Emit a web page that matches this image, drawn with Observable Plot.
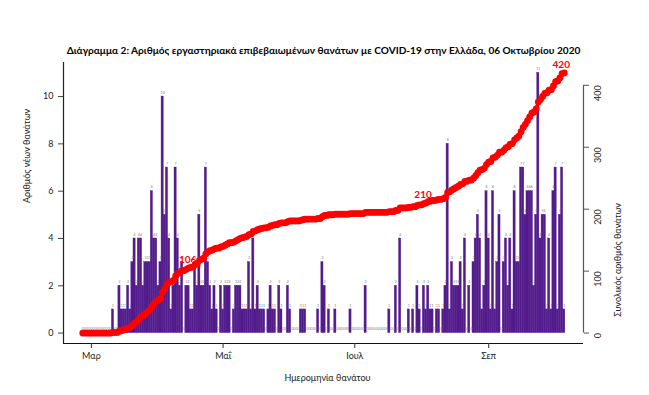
<!DOCTYPE html>
<html><head><meta charset="utf-8">
<script src="https://cdn.jsdelivr.net/npm/d3@7"></script>
<script src="https://cdn.jsdelivr.net/npm/@observablehq/plot@0.6"></script>
<style>body{margin:0;background:#fff;} svg{display:block;}</style>
</head><body><div id="chart"></div>
<script>
// ---- data ----
const startDate = "2020-02-26";
const dailyDeaths = [
  // Feb 26-29
  0,0,0,0,
  // Mar
  0,0,0,0,0,0,0,0,0,0, 1,0,0,2,1,1,1,2,1,3, 4,2,4,4,2,3,3,3,6,4, 4,
  // Apr
  2,3,10,5,7,4,1,2,7,4, 2,3,0,2,2,1,1,3,2,5, 2,2,7,3,2,1,2,1,0,2,
  // May
  1,2,2,2,0,1,2,2,2,1, 1,1,3,1,4,1,2,1,1,1, 0,1,2,1,1,0,2,1,0,0, 2,
  // Jun
  1,0,0,0,0,1,1,1,0,0, 0,0,0,1,0,3,2,0,1,0, 0,1,0,0,0,0,0,0,1,0,
  // Jul
  0,0,0,0,0,2,0,0,0,0, 0,0,0,0,0,0,1,0,0,2, 0,4,0,0,0,1,0,1,0,2, 1,
  // Aug
  0,2,1,2,1,1,0,1,1,0, 1,2,8,1,3,2,2,2,3,1, 4,0,2,0,3,4,5,4,1,2, 6,
  // Sep
  4,1,6,1,3,5,0,3,4,2, 4,1,6,3,3,7,7,5,6,6, 6,2,5,11,4,5,5,1,4,1,
  // Oct 1-6
  6,7,1,5,7,1
];
const labelDates = ["2020-04-16", "2020-08-03", "2020-10-06"];
const leftTicks = [0, 2, 4, 6, 8, 10];
const rightTicks = [0, 100, 200, 300, 400];
const xTickDates = ["2020-03-01", "2020-05-01", "2020-07-01", "2020-09-01"];
const xTickLabels = ["Μαρ", "Μαΐ", "Ιουλ", "Σεπ"];
const leftLimit = 11;
const rightLimit = 420;
const titleText = "Διάγραμμα 2: Αριθμός εργαστηριακά επιβεβαιωμένων θανάτων με COVID-19 στην Ελλάδα, 06 Οκτωβρίου 2020";
const xLabel = "Ημερομηνία θανάτου";
const yLabelLeft = "Αριθμός νέων θανάτων";
const yLabelRight = "Συνολικός αριθμός θανάτων";

// ---- derived ----
const parse = d3.utcParse("%Y-%m-%d");
const t0 = parse(startDate);
let run = 0;
const data = dailyDeaths.map((v, i) => { run += v; return {date: d3.utcDay.offset(t0, i), deaths: v, cum: run}; });
const k = leftLimit / rightLimit;
const first = data[0].date, last = data[data.length - 1].date;
const span = last - first;
const xDomain = [new Date(+first - 0.04 * span), new Date(+last + 0.04 * span)];
const yDomain = [-0.04 * leftLimit, leftLimit * 1.04];
const half = 12 * 3600 * 1000;
const labelSet = new Set(labelDates);
const labelled = data.filter(d => labelSet.has(d3.utcFormat("%Y-%m-%d")(d.date)));
const xTicks = xTickDates.map(parse);
const xTickMap = new Map(xTicks.map((d, i) => [+d, xTickLabels[i]]));

const chart = Plot.plot({
  width: 649, height: 395,
  marginTop: 62, marginBottom: 52, marginLeft: 63, marginRight: 66,
  x: {type: "utc", domain: xDomain},
  y: {domain: yDomain},
  style: {fontFamily: "Lato, 'Open Sans', sans-serif", background: "white", color: "#222"},
  marks: [
    Plot.rect(data, {x1: d => new Date(+d.date - half), x2: d => new Date(+d.date + half), y1: 0, y2: "deaths",
      fill: "#531C8C", stroke: "#531C8C", strokeWidth: 0.4}),
    Plot.text(data, {x: "date", y: "deaths", text: d => String(d.deaths), dy: -4, fontSize: 3.5, fill: "#777"}),
    Plot.line(data, {x: "date", y: d => d.cum * k, stroke: "#ff0000", strokeWidth: 3.5}),
    Plot.dot(data, {x: "date", y: d => d.cum * k, r: 3.4, fill: "#ff0000", stroke: "none"}),
    Plot.text(labelled, {x: "date", y: d => d.cum * k, text: d => String(d.cum), dx: -3, dy: -8, fill: "#ff0000",
      fontWeight: "bold", fontSize: 10}),
    // box (left + bottom)
    Plot.ruleX([xDomain[0]], {stroke: "#222", strokeWidth: 1.2}),
    Plot.ruleY([yDomain[0]], {stroke: "#111", strokeWidth: 1}),
    // left axis
    Plot.axisY(leftTicks, {anchor: "left", tickSize: 5, tickPadding: 5, fontSize: 9, label: null, stroke: "#444"}),
    // right axis
    Plot.ruleX([xDomain[1]], {y1: rightTicks[0] * k, y2: rightTicks[rightTicks.length - 1] * k, stroke: "#555", strokeWidth: 1.2}),
    Plot.axisY(rightTicks.map(v => v * k), {anchor: "right", tickSize: 5, tickFormat: () => "", label: null, stroke: "#555"}),
    Plot.text(rightTicks, {y: d => d * k, text: d => String(d), frameAnchor: "right", dx: 15, rotate: -90, fontSize: 9, fill: "#222"}),
    // x axis
    Plot.axisX(xTicks, {tickSize: 5, tickPadding: 4, fontSize: 9, label: null, tickFormat: d => xTickMap.get(+d), stroke: "#333"}),
    // titles
    Plot.text([titleText], {frameAnchor: "top", dy: -16, fontWeight: "bold", fontSize: 10.1, fill: "#000"}),
    Plot.text([xLabel], {frameAnchor: "bottom", dx: 4, dy: 37, fontSize: 9, fill: "#222"}),
    Plot.text([yLabelLeft], {frameAnchor: "left", dx: -36, rotate: -90, fontSize: 9, fill: "#222"}),
    Plot.text([yLabelRight], {frameAnchor: "right", dx: 35, rotate: -90, fontSize: 9, fill: "#222"})
  ]
});
document.getElementById("chart").appendChild(chart);
</script>
</body></html>
